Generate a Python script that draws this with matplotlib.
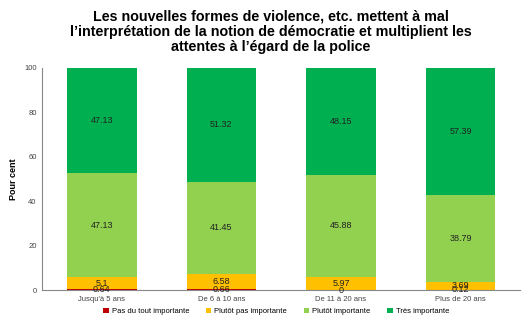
import numpy as np
import matplotlib.pyplot as plt

plt.rcParams['font.family'] = ['Liberation Sans', 'DejaVu Sans']

categories = ["Jusqu'à 5 ans", "De 6 à 10 ans", "De 11 à 20 ans", "Plus de 20 ans"]
series_names = ["Pas du tout importante", "Plutôt pas importante",
                "Plutôt importante", "Très importante"]
pas_du_tout = [0.64, 0.66, 0, 0.12]
plutot_pas = [5.1, 6.58, 5.97, 3.69]
plutot_imp = [47.13, 41.45, 45.88, 38.79]
tres_imp = [47.13, 51.32, 48.15, 57.39]
colors = ["#C00000", "#FFC000", "#92D050", "#00B050"]

title = ("Les nouvelles formes de violence, etc. mettent à mal\n"
         "l’interprétation de la notion de démocratie et multiplient les\n"
         "attentes à l’égard de la police")

fig = plt.figure(figsize=(5.26, 3.22), dpi=100)
ax = fig.add_axes([0.08, 0.099, 0.909, 0.69])

x = np.arange(len(categories))
bottom = np.zeros(len(categories))
for vals, name, c in zip([pas_du_tout, plutot_pas, plutot_imp, tres_imp],
                         series_names, colors):
    vals = np.array(vals, dtype=float)
    ax.bar(x, vals, width=0.58, bottom=bottom, color=c, label=name)
    for xi, b, v in zip(x, bottom, vals):
        ax.text(xi, b + v / 2, f"{v:g}", ha="center", va="center",
                fontsize=6.5, color="#222222")
    bottom += vals

ax.set_xlim(-0.5, 3.5)
ax.set_ylim(0, 100)
ax.set_yticks(range(0, 101, 20))
ax.set_xticks(x)
ax.set_xticklabels(categories)
ax.tick_params(axis="both", labelsize=5.5, colors="#444444", length=0, pad=4)
ax.set_ylabel("Pour cent", fontsize=6.5, fontweight="bold", labelpad=4)
for s in ["top", "right"]:
    ax.spines[s].set_visible(False)
for s in ["left", "bottom"]:
    ax.spines[s].set_color("#888888")

fig.text(0.515, 0.972, title, ha="center", va="top", fontsize=10.3,
         fontweight="bold", linespacing=1.15)

fig.legend(loc="lower center", ncol=4, fontsize=5.5, frameon=False,
           bbox_to_anchor=(0.525, 0.0), handlelength=0.7, handleheight=0.7,
           columnspacing=2.2, handletextpad=0.4)

fig.savefig("out.png", dpi=100)
